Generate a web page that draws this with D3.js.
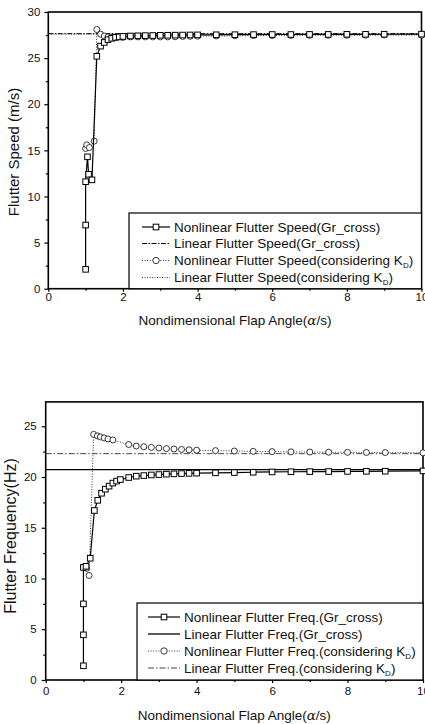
<!DOCTYPE html>
<html>
<head>
<meta charset="utf-8">
<script src="https://cdn.jsdelivr.net/npm/d3@7"></script>
<style>
  body { margin: 0; background: #fff; }
  text { font-family: "Liberation Sans", Arial, sans-serif; fill: #111; }
</style>
</head>
<body>
<div id="chart"></div>
<script>
// values
var x_ticks = [0, 2, 4, 6, 8, 10];
var x_minor = [1, 3, 5, 7, 9];
var speed_ticks = [0, 5, 10, 15, 20, 25, 30];
var speed_minor = [2.5, 7.5, 12.5, 17.5, 22.5, 27.5];
var freq_ticks = [0, 5, 10, 15, 20, 25];
var freq_minor = [2.5, 7.5, 12.5, 17.5, 22.5];

var speed_linear_gr = 27.65;
var speed_linear_kd = 27.6;
var freq_linear_gr = 20.73;
var freq_linear_kd = 22.3;

var speed_nonlinear_gr = [
  [1.0, 2.1], [1.0, 6.9], [1.0, 11.6], [1.05, 14.3], [1.08, 12.4], [1.17, 11.8],
  [1.3, 25.2], [1.4, 26.3], [1.5, 26.7], [1.6, 27.0], [1.7, 27.15], [1.8, 27.25],
  [1.9, 27.3], [2.0, 27.35], [2.2, 27.4], [2.4, 27.42], [2.6, 27.44], [2.8, 27.45],
  [3.0, 27.47], [3.2, 27.48], [3.4, 27.49], [3.6, 27.5], [3.8, 27.51], [4.0, 27.52],
  [4.5, 27.53], [5.0, 27.54], [5.5, 27.55], [6.0, 27.56], [6.5, 27.56], [7.0, 27.57],
  [7.5, 27.57], [8.0, 27.58], [8.5, 27.58], [9.0, 27.59], [10.0, 27.6]
];
var speed_nonlinear_kd = [
  [1.0, 15.2], [1.03, 15.6], [1.1, 15.3], [1.23, 16.0], [1.3, 28.1], [1.4, 27.6],
  [1.5, 27.4], [1.6, 27.3], [1.7, 27.25], [1.8, 27.25], [2.0, 27.25], [2.2, 27.3],
  [2.4, 27.3], [2.6, 27.3], [2.8, 27.3], [3.0, 27.3], [3.2, 27.3], [3.4, 27.32],
  [3.6, 27.35], [3.8, 27.37], [4.0, 27.38], [4.5, 27.4], [5.0, 27.42], [5.5, 27.44],
  [6.0, 27.45], [6.5, 27.46], [7.0, 27.47], [7.5, 27.48], [8.0, 27.48], [8.5, 27.49],
  [9.0, 27.5], [10.0, 27.5]
];
var freq_nonlinear_gr = [
  [1.0, 1.4], [1.0, 4.45], [1.0, 7.5], [1.0, 11.1], [1.07, 11.2], [1.18, 12.0],
  [1.29, 16.7], [1.38, 17.7], [1.48, 18.4], [1.58, 18.8], [1.68, 19.1], [1.78, 19.4],
  [1.88, 19.6], [1.98, 19.75], [2.2, 19.95], [2.4, 20.08], [2.6, 20.14], [2.8, 20.2],
  [3.0, 20.24], [3.2, 20.28], [3.4, 20.31], [3.6, 20.34], [3.8, 20.36], [4.0, 20.38],
  [4.5, 20.41], [5.0, 20.44], [5.5, 20.47], [6.0, 20.5], [6.5, 20.52], [7.0, 20.53],
  [7.5, 20.54], [8.0, 20.55], [8.5, 20.56], [9.0, 20.57], [10.0, 20.6]
];
var freq_nonlinear_kd = [
  [1.0, 11.1], [1.08, 11.0], [1.15, 10.3], [1.27, 24.2], [1.37, 24.05], [1.45, 23.95],
  [1.55, 23.85], [1.65, 23.75], [1.78, 23.65], [2.2, 23.2], [2.4, 23.05], [2.6, 22.98],
  [2.8, 22.92], [3.0, 22.86], [3.2, 22.8], [3.4, 22.76], [3.6, 22.72], [3.8, 22.68],
  [4.0, 22.64], [4.5, 22.6], [5.0, 22.56], [5.5, 22.53], [6.0, 22.5], [6.5, 22.48],
  [7.0, 22.46], [7.5, 22.44], [8.0, 22.43], [8.5, 22.42], [9.0, 22.41], [10.0, 22.38]
];

var speed_labels = ['Nonlinear Flutter Speed(Gr_cross)', 'Linear Flutter Speed(Gr_cross)',
  'Nonlinear Flutter Speed(considering K', 'Linear Flutter Speed(considering K'];
var freq_labels = ['Nonlinear Flutter Freq.(Gr_cross)', 'Linear Flutter Freq.(Gr_cross)',
  'Nonlinear Flutter Freq.(considering K', 'Linear Flutter Freq.(considering K'];

var width = 425, height = 724;
var svg = d3.select('#chart').append('svg')
    .attr('width', width)
    .attr('height', height);

function drawPanel(p) {
  var x = d3.scaleLinear().domain([0, 10]).range(p.xr);
  var y = d3.scaleLinear().domain(p.yd).range(p.yr);
  var g = svg.append('g');

  // frame
  g.append('rect')
      .attr('x', p.xr[0]).attr('y', p.yr[1])
      .attr('width', p.xr[1] - p.xr[0]).attr('height', p.yr[0] - p.yr[1])
      .attr('fill', 'none').attr('stroke', '#000').attr('stroke-width', 1.6);

  // axes
  g.append('g').attr('transform', 'translate(0,' + p.yr[0] + ')')
      .call(d3.axisBottom(x).tickValues(x_ticks).tickSize(3).tickPadding(p.xpad).tickFormat(d3.format('d')));
  g.append('g').attr('transform', 'translate(0,' + p.yr[0] + ')')
      .call(d3.axisBottom(x).tickValues(x_minor).tickSize(2).tickFormat(''));
  g.append('g').attr('transform', 'translate(' + p.xr[0] + ',0)')
      .call(d3.axisLeft(y).tickValues(p.yticks).tickSize(4).tickPadding(p.ypad));
  g.append('g').attr('transform', 'translate(' + p.xr[0] + ',0)')
      .call(d3.axisLeft(y).tickValues(p.yminor).tickSize(2.5).tickFormat(''));
  g.selectAll('.domain').remove();
  g.selectAll('.tick line').attr('stroke', '#000').attr('stroke-width', 1.2);
  g.selectAll('.tick text').style('font-size', '11.5px').attr('fill', '#111');

  // linear lines
  g.append('line')
      .attr('x1', x(0)).attr('x2', x(10))
      .attr('y1', y(p.lin_kd)).attr('y2', y(p.lin_kd))
      .attr('stroke', '#444').attr('stroke-width', 1)
      .attr('stroke-dasharray', p.kd_dash);
  g.append('line')
      .attr('x1', x(0)).attr('x2', x(10))
      .attr('y1', y(p.lin_gr)).attr('y2', y(p.lin_gr))
      .attr('stroke', '#000').attr('stroke-width', p.gr_width)
      .attr('stroke-dasharray', p.gr_dash);

  var line = d3.line().x(function(d) { return x(d[0]); }).y(function(d) { return y(d[1]); });

  // nonlinear considering K_D
  g.append('path').datum(p.non_kd).attr('d', line)
      .attr('fill', 'none').attr('stroke', '#333').attr('stroke-width', 1)
      .attr('stroke-dasharray', '1,1.6');
  g.selectAll('.circ').data(p.non_kd).enter().append('circle')
      .attr('cx', function(d) { return x(d[0]); })
      .attr('cy', function(d) { return y(d[1]); })
      .attr('r', 3).attr('fill', '#fff').attr('stroke', '#222').attr('stroke-width', 0.9);

  // nonlinear Gr_cross
  g.append('path').datum(p.non_gr).attr('d', line)
      .attr('fill', 'none').attr('stroke', '#000').attr('stroke-width', 1.2);
  g.selectAll('.sq').data(p.non_gr).enter().append('rect')
      .attr('x', function(d) { return x(d[0]) - 2.8; })
      .attr('y', function(d) { return y(d[1]) - 2.8; })
      .attr('width', 5.6).attr('height', 5.6)
      .attr('fill', '#fff').attr('stroke', '#000').attr('stroke-width', 1);

  // titles
  var xt = g.append('text')
      .attr('x', (p.xr[0] + p.xr[1]) / 2).attr('y', p.xt_y)
      .attr('text-anchor', 'middle').style('font-size', '13.5px');
  xt.append('tspan').text('Nondimensional Flap Angle(');
  xt.append('tspan').style('font-family', '"DejaVu Serif", serif').style('font-style', 'italic').text('α');
  xt.append('tspan').text('/s)');
  g.append('text')
      .attr('transform', 'translate(' + p.yt_x + ',' + p.yt_y + ') rotate(-90)')
      .attr('text-anchor', 'middle').style('font-size', p.yt_size)
      .text(p.ytitle);

  // legend
  var L = p.leg;
  g.append('rect')
      .attr('x', L.x0).attr('y', L.y0)
      .attr('width', p.xr[1] - L.x0).attr('height', p.yr[0] - L.y0)
      .attr('fill', '#fff').attr('stroke', '#000').attr('stroke-width', 1.2);
  var styles = [
    {dash: null, w: 1.2, col: '#000', mark: 'sq'},
    {dash: p.gr_dash, w: p.gr_width, col: '#000', mark: null},
    {dash: '1,1.6', w: 1, col: '#333', mark: 'circ'},
    {dash: p.kd_dash, w: 1, col: '#444', mark: null}
  ];
  p.labels.forEach(function(lab, i) {
    var cy = L.rows[i];
    var s = styles[i];
    g.append('line')
        .attr('x1', L.l0).attr('x2', L.l1).attr('y1', cy).attr('y2', cy)
        .attr('stroke', s.col).attr('stroke-width', s.w)
        .attr('stroke-dasharray', s.dash);
    var mx = (L.l0 + L.l1) / 2;
    if (s.mark == 'sq') {
      g.append('rect').attr('x', mx - 2.8).attr('y', cy - 2.8).attr('width', 5.6).attr('height', 5.6)
          .attr('fill', '#fff').attr('stroke', '#000');
    } else if (s.mark == 'circ') {
      g.append('circle').attr('cx', mx).attr('cy', cy).attr('r', 3.2)
          .attr('fill', '#fff').attr('stroke', '#222').attr('stroke-width', 0.9);
    }
    var t = g.append('text').attr('x', L.l1 + 4).attr('y', cy + 4.8)
        .style('font-size', '13.5px').text(lab);
    if (i >= 2) {
      t.append('tspan').style('font-size', '8px').attr('dy', 3).text('D');
      t.append('tspan').attr('dy', -3).text(')');
    }
  });
}

drawPanel({
  xr: [48.3, 421.5], yd: [0, 30], yr: [288.7, 12],
  yticks: speed_ticks, yminor: speed_minor, xpad: 1, ypad: 4,
  lin_gr: speed_linear_gr, lin_kd: speed_linear_kd,
  gr_dash: '5,1.5,1.5,1.5', gr_width: 1, kd_dash: '1,1.5',
  non_gr: speed_nonlinear_gr, non_kd: speed_nonlinear_kd,
  xt_y: 325, yt_x: 19, yt_y: 152, yt_size: '15px', ytitle: 'Flutter Speed (m/s)',
  labels: speed_labels,
  leg: {x0: 129, y0: 213, l0: 142, l1: 170, rows: [227, 243.5, 260.5, 277.5]}
});

drawPanel({
  xr: [45.7, 423], yd: [0, 27.4], yr: [680, 401.9],
  yticks: freq_ticks, yminor: freq_minor, xpad: 4, ypad: 5,
  lin_gr: freq_linear_gr, lin_kd: freq_linear_kd,
  gr_dash: null, gr_width: 1.3, kd_dash: '6,2,1.5,2',
  non_gr: freq_nonlinear_gr, non_kd: freq_nonlinear_kd,
  xt_y: 720, yt_x: 16, yt_y: 536, yt_size: '16px', ytitle: 'Flutter Frequency(Hz)',
  labels: freq_labels,
  leg: {x0: 137, y0: 603, l0: 148, l1: 180, rows: [617, 634, 651, 668]}
});
</script>
</body>
</html>
